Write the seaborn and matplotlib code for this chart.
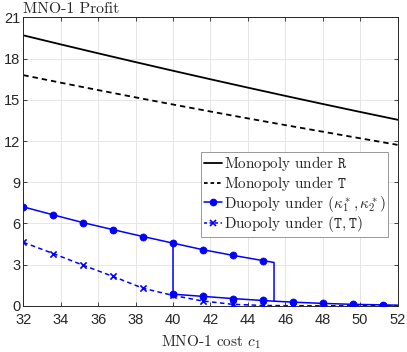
import numpy as np
import pandas as pd
import matplotlib
matplotlib.use("Agg")
import matplotlib.pyplot as plt
from matplotlib.lines import Line2D
import seaborn as sns

# ---- data ----
c_mono = [32, 34, 36, 38, 40, 42, 44, 46, 48, 50, 52]
mono_R = [19.7, 19.04, 18.39, 17.75, 17.12, 16.50, 15.89, 15.29, 14.70, 14.12, 13.55]
mono_T = [16.8, 16.25, 15.71, 15.18, 14.66, 14.15, 13.65, 13.16, 12.68, 12.20, 11.72]

# duopoly under (kappa1*, kappa2*): upper branch, jump, lower branch
c_upper = [32, 33.6, 35.2, 36.8, 38.4, 40, 41.6, 43.2, 44.8, 45.4]
duo_upper = [7.2, 6.62, 6.05, 5.54, 5.04, 4.56, 4.08, 3.67, 3.29, 3.15]
c_lower = [40, 41.6, 43.2, 44.8, 45.4, 46.4, 48, 49.6, 51.2, 52]
duo_lower = [0.84, 0.68, 0.52, 0.38, 0.33, 0.26, 0.17, 0.10, 0.06, 0.04]

c_TT = [32, 33.6, 35.2, 36.8, 38.4, 40, 41.6, 43.2, 44.8, 46.4, 48, 49.6, 51.2, 52]
duo_TT = [4.62, 3.8, 2.95, 2.13, 1.27, 0.75, 0.34, 0.10, 0.02, 0.0, 0.0, 0.0, 0.0, 0.0]

x_ticks = list(range(32, 53, 2))
y_ticks = list(range(0, 22, 3))

sns.set_theme(style="white")
plt.rcParams['mathtext.fontset'] = 'cm'
plt.rcParams['axes.unicode_minus'] = False

fig = plt.figure(figsize=(4.07, 3.52), dpi=100)
ax = fig.add_axes([0.0573, 0.1315, 0.9194, 0.8188])

blue = (0, 0, 1)
lw = 1.3
blw = 1.1
dash = (0, (3, 2.2))

df_m = pd.DataFrame({"c": c_mono, "R": mono_R, "T": mono_T})
sns.lineplot(data=df_m, x="c", y="R", ax=ax, color="black", lw=lw)
sns.lineplot(data=df_m, x="c", y="T", ax=ax, color="black", lw=lw, linestyle=dash)

# kappa* path: upper branch with jump down at the end, then lower branch
pathA_x = c_upper + [c_upper[-1]] + c_lower[5:]
pathA_y = duo_upper + [duo_lower[4]] + duo_lower[5:]
dfA = pd.DataFrame({"c": pathA_x, "v": pathA_y})
sns.lineplot(data=dfA, x="c", y="v", ax=ax, sort=False, estimator=None, color=blue, lw=blw)
pathB_x = [c_upper[5]] + c_lower[:5]
pathB_y = [duo_upper[5]] + duo_lower[:5]
dfB = pd.DataFrame({"c": pathB_x, "v": pathB_y})
sns.lineplot(data=dfB, x="c", y="v", ax=ax, sort=False, estimator=None, color=blue, lw=blw)

mk_x = c_upper[:-1] + [c for c in c_lower if c != 45.4]
mk_y = duo_upper[:-1] + [v for c, v in zip(c_lower, duo_lower) if c != 45.4]
mk_df = pd.DataFrame({"c": mk_x, "v": mk_y})
mk_df = mk_df[mk_df["c"] < 52]
sns.scatterplot(data=mk_df, x="c", y="v", ax=ax, color=blue, s=26, marker="o",
                edgecolor=blue, linewidth=0.5, zorder=5)

df_tt = pd.DataFrame({"c": c_TT, "v": duo_TT})
sns.lineplot(data=df_tt, x="c", y="v", ax=ax, color=blue, lw=blw, linestyle=dash)
tt_mk = df_tt[df_tt["c"] < 52]
sns.scatterplot(data=tt_mk, x="c", y="v", ax=ax, color=blue, s=20, marker="x",
                linewidth=1.2, zorder=4)

ax.set_xlim(32, 52)
ax.set_ylim(0, 21)
ax.set_xticks(x_ticks)
ax.set_yticks(y_ticks)
ax.grid(True, color="#e6e6e6", lw=0.7)
ax.set_axisbelow(True)
for s in ax.spines.values():
    s.set_color("#262626")
    s.set_linewidth(0.7)
    s.set_visible(True)
ax.tick_params(direction="in", length=3, width=0.6, color="#262626",
               labelsize=10.5, labelcolor="#262626", top=True, right=True,
               left=True, bottom=True)
ax.tick_params(axis="x", pad=5)
ax.tick_params(axis="y", pad=2)
for lab in ax.get_xticklabels() + ax.get_yticklabels():
    lab.set_family("Liberation Sans")

ax.set_xlabel(r"MNO-1 cost $c_1$", fontfamily="cmr10", fontsize=11, color="#262626", labelpad=5)
ax.set_ylabel("")
ax.set_title("MNO-1 Profit", fontfamily="cmr10", fontsize=11.3, loc="left", pad=3, color="#262626")

handles = [
    Line2D([], [], color="black", lw=lw),
    Line2D([], [], color="black", lw=lw, linestyle=(0, (2, 1.6))),
    Line2D([], [], color=blue, lw=blw, marker="o", markersize=4.5),
    Line2D([], [], color=blue, lw=blw, linestyle=(0, (2, 1.6)), marker="x", markersize=4, markeredgewidth=1.2),
]
labels = [r"Monopoly under $\mathtt{R}$", r"Monopoly under $\mathtt{T}$",
          r"Duopoly under $(\kappa_1^*,\kappa_2^*)$", r"Duopoly under $(\mathtt{T},\mathtt{T})$"]
leg = ax.legend(handles, labels, loc="upper right", bbox_to_anchor=(0.975, 0.534),
                prop={"family": "cmr10", "size": 10.9}, frameon=True, fancybox=False,
                edgecolor="#999999", framealpha=1, handlelength=1.2, handletextpad=0.12,
                borderpad=0.15, labelspacing=0.05, borderaxespad=0)
leg.get_frame().set_linewidth(0.7)

fig.savefig("out.png", dpi=100)
